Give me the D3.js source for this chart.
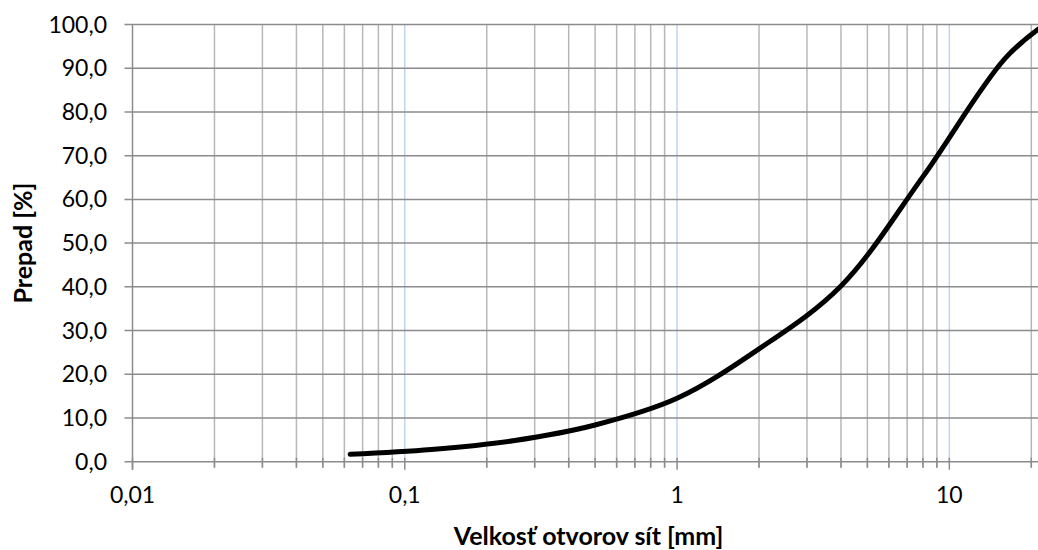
<!DOCTYPE html>
<html>
<head>
<meta charset="utf-8">
<script src="https://cdn.jsdelivr.net/npm/d3@7"></script>
<style>
  html, body { margin: 0; padding: 0; background: #fff; }
  svg { display: block; }
  text { font-family: Lato, "Open Sans", sans-serif; fill: #000; }
</style>
</head>
<body>
<svg id="chart" width="1038" height="550"></svg>
<script>
// ---- data ----
const sieveSizes = [0.063, 0.125, 0.25, 0.5, 1, 2, 4, 8, 16, 22.4];   // mm
const passing    = [1.7,   2.8,   4.8,  8.4, 14.5, 25.8, 40.2, 65.2, 92.2, 100.0]; // %
const xTickLabels = ["0,01", "0,1", "1", "10"];
const xMajorTicks = [0.01, 0.1, 1, 10];
const yTicks = [0, 10, 20, 30, 40, 50, 60, 70, 80, 90, 100];
const xTitle = "Velkosť otvorov sít [mm]";
const yTitle = "Prepad [%]";

// ---- layout ----
const W = 1038, H = 550;
const pLeft = 132.5, pRight = 1044.7, pTop = 24.5, pBottom = 461.7;

const svg = d3.select("#chart");
const x = d3.scaleLog().domain([0.01, 22.4]).range([pLeft, pRight]);
const y = d3.scaleLinear().domain([0, 100]).range([pBottom, pTop]);

// minor tick values
const minor = [];
[0.01, 0.1, 1, 10].forEach(d => {
  for (let k = 2; k <= 9; k++) {
    const v = +(d * k).toPrecision(3);
    if (v <= 22.4) minor.push(v);
  }
});

// vertical minor gridlines
svg.append("g").selectAll("line").data(minor).join("line")
  .attr("x1", d => x(d)).attr("x2", d => x(d))
  .attr("y1", pTop).attr("y2", pBottom + 6)
  .attr("stroke", "#b8b8b8").attr("stroke-width", 1.5);

// minor tick marks (darker, crossing axis)
svg.append("g").selectAll("line").data(minor).join("line")
  .attr("x1", d => x(d)).attr("x2", d => x(d))
  .attr("y1", pBottom - 4).attr("y2", pBottom + 6)
  .attr("stroke", "#8c8c8c").attr("stroke-width", 1.5);

// vertical major gridlines (light blue)
svg.append("g").selectAll("line").data(xMajorTicks.slice(1)).join("line")
  .attr("x1", d => x(d)).attr("x2", d => x(d))
  .attr("y1", pTop).attr("y2", pBottom)
  .attr("stroke", "#c2d3ee").attr("stroke-width", 1.5);

// major tick marks
svg.append("g").selectAll("line").data(xMajorTicks).join("line")
  .attr("x1", d => x(d)).attr("x2", d => x(d))
  .attr("y1", pBottom - 4).attr("y2", pBottom + 8)
  .attr("stroke", "#8c8c8c").attr("stroke-width", 1.5);

// horizontal gridlines with outward ticks
svg.append("g").selectAll("line").data(yTicks).join("line")
  .attr("x1", pLeft - 8).attr("x2", W + 10)
  .attr("y1", d => y(d)).attr("y2", d => y(d))
  .attr("stroke", "#8c8c8c").attr("stroke-width", 1.5);

// y axis line
svg.append("line")
  .attr("x1", pLeft).attr("x2", pLeft)
  .attr("y1", pTop).attr("y2", pBottom + 8)
  .attr("stroke", "#8c8c8c").attr("stroke-width", 1.5);

// y tick labels
svg.append("g").selectAll("text").data(yTicks).join("text")
  .attr("x", 107).attr("y", d => y(d))
  .attr("dy", "0.35em")
  .attr("text-anchor", "end")
  .style("font-size", "23px")
  .text(d => d3.format(".1f")(d).replace(".", ","));

// x tick labels
svg.append("g").selectAll("text").data(xMajorTicks).join("text")
  .attr("x", d => x(d)).attr("y", 503)
  .attr("text-anchor", "middle")
  .style("font-size", "23px")
  .text((d, i) => xTickLabels[i]);

// axis titles
svg.append("text")
  .attr("x", (pLeft + pRight) / 2).attr("y", 545)
  .attr("text-anchor", "middle")
  .style("font-size", "25px").style("font-weight", "bold")
  .text(xTitle);

svg.append("text")
  .attr("transform", `translate(32, ${(pTop + pBottom) / 2}) rotate(-90)`)
  .attr("text-anchor", "middle")
  .style("font-size", "25px").style("font-weight", "bold")
  .text(yTitle);

// curve
const pts = sieveSizes.map((s, i) => [s, passing[i]]);
svg.append("path")
  .datum(pts)
  .attr("fill", "none")
  .attr("stroke", "#000")
  .attr("stroke-width", 5)
  .attr("stroke-linecap", "round")
  .attr("stroke-linejoin", "round")
  .attr("d", d3.line().x(d => x(d[0])).y(d => y(d[1])).curve(d3.curveCatmullRom.alpha(0.5)));
</script>
</body>
</html>
